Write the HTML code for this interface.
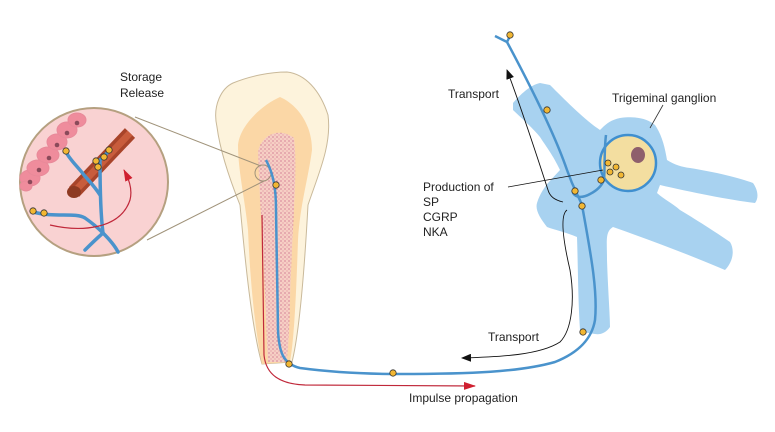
<!DOCTYPE html>
<html><head><meta charset="utf-8"><style>
html,body{margin:0;padding:0;background:#fff;}
svg{display:block;font-family:"Liberation Sans",sans-serif;}
text{font-size:12px;fill:#222;}
</style></head><body>
<svg width="775" height="432" viewBox="0 0 775 432" xmlns="http://www.w3.org/2000/svg">
<defs>
<pattern id="dots" width="4" height="4" patternUnits="userSpaceOnUse">
<rect width="4" height="4" fill="#f6cfc4"/>
<circle cx="1" cy="1" r="0.6" fill="#c0507a"/><circle cx="3" cy="3" r="0.5" fill="#d06a8a"/>
</pattern>
<marker id="ab" markerWidth="10" markerHeight="8" refX="9" refY="4" orient="auto" markerUnits="userSpaceOnUse"><path d="M0,0 L10,4 L0,8 Z" fill="#111"/></marker>
<marker id="ar" markerWidth="12" markerHeight="8" refX="11" refY="4" orient="auto" markerUnits="userSpaceOnUse"><path d="M0,0 L12,4 L0,8 Z" fill="#d02030"/></marker>
</defs>

<!-- ganglion -->
<path d="M513,103 C520,95 530,85 540,83 L550,85 C565,100 585,120 600,130 C605,125 610,120 620,118 C635,116 647,118 655,125 C662,135 665,148 667,160 C675,165 682,167 690,168 C715,172 740,178 753,183 C758,190 759,198 755,203 C730,200 690,192 660,185 L657,193 C665,200 672,203 680,210 C700,222 720,235 730,242 C735,250 733,262 725,270 C690,255 650,240 613,227 C605,232 607,240 607,260 C608,290 610,315 610,327 C606,333 600,335 595,334 C588,333 582,332 580,330 C578,300 578,265 577,237 C565,232 555,230 547,227 C540,218 535,210 537,203 C540,193 545,187 548,183 L560,170 C553,155 545,145 540,137 C530,125 520,117 513,110 Z" fill="#a8d2f0"/>
<circle cx="628" cy="163" r="28" fill="#f3dea0" stroke="#3f8fcf" stroke-width="2.5"/>
<ellipse cx="638" cy="155" rx="7" ry="8" fill="#8e5f6c"/>
<line x1="650" y1="128" x2="663" y2="105" stroke="#333" stroke-width="0.8"/>

<!-- tooth -->
<path d="M217,127 C212,105 222,88 233,83 C250,76 270,72 287,72 C305,74 320,90 328,115 C332,145 318,175 308,205 C305,260 300,330 292,362 L262,364 C252,330 245,260 240,205 C228,175 220,150 217,127 Z" fill="#fdf3dc" stroke="#c9b99a" stroke-width="1"/>
<path d="M238,145 C240,125 262,105 280,97 C298,105 312,125 312,150 C308,180 300,205 298,240 C296,300 294,340 290,362 L262,364 C255,330 250,280 248,230 C245,200 238,170 238,145 Z" fill="#fbd7a6"/>
<path d="M258,152 C262,132 282,128 294,138 C298,170 292,230 290,300 C289,340 288,355 286,362 L268,362 C266,330 264,250 260,200 Z" fill="url(#dots)"/>

<!-- inset -->
<line x1="135" y1="117" x2="261" y2="166" stroke="#a0937a" stroke-width="1"/>
<line x1="147" y1="240" x2="264" y2="181" stroke="#a0937a" stroke-width="1"/>
<circle cx="263" cy="173" r="8" fill="none" stroke="#a0937a" stroke-width="1"/>
<circle cx="94" cy="182" r="74" fill="#f9d2d2" stroke="#b5a080" stroke-width="2"/>
<g fill="#ef8c9c" stroke="#e88a9a" stroke-width="1">
<ellipse cx="30" cy="178" rx="10" ry="8"/><ellipse cx="38" cy="168" rx="11" ry="8"/><ellipse cx="48" cy="155" rx="11" ry="8"/><ellipse cx="57" cy="142" rx="10" ry="8"/><ellipse cx="67" cy="130" rx="10" ry="8"/><ellipse cx="77" cy="120" rx="9" ry="7"/><ellipse cx="26" cy="186" rx="6" ry="5"/>
</g>
<g fill="#8a4a5a"><circle cx="30" cy="182" r="2.3"/><circle cx="39" cy="170" r="2.3"/><circle cx="49" cy="158" r="2.3"/><circle cx="57" cy="145" r="2.3"/><circle cx="67" cy="133" r="2.3"/><circle cx="77" cy="123" r="2.3"/></g>
<path d="M74,192 L130,133" stroke="#a8442a" stroke-width="14" fill="none"/>
<path d="M76,190 L130,133" stroke="#c85c3c" stroke-width="7" fill="none"/>
<ellipse cx="74" cy="192" rx="7" ry="6" fill="#8e3a22"/>
<g stroke="#4a93cc" stroke-width="3.5" fill="none" stroke-linecap="round">
<path d="M33,212 C55,218 75,212 85,218 C95,225 100,230 103,233 C110,240 115,246 118,252"/>
<path d="M103,233 C100,210 100,180 100,160 L110,150"/>
<path d="M66,152 C70,160 78,167 84,175 C90,182 95,187 100,195"/>
<path d="M103,233 C95,240 90,245 85,250"/>
</g>
<path d="M50,225 C80,232 120,230 130,200 C133,188 128,178 124,170" stroke="#c0283a" stroke-width="1.2" fill="none" marker-end="url(#ar)"/>
<g fill="#f2b733" stroke="#333" stroke-width="0.8">
<circle cx="66" cy="151" r="3.2"/><circle cx="96" cy="161" r="3.2"/><circle cx="104" cy="157" r="3.2"/><circle cx="109" cy="150" r="3.2"/><circle cx="98" cy="167" r="3.2"/><circle cx="33" cy="211" r="3.2"/><circle cx="44" cy="213" r="3.2"/>
</g>

<!-- red impulse -->
<path d="M262,215 L264,355 C266,375 280,384 305,385 L475,386" stroke="#c0283a" stroke-width="1.2" fill="none" marker-end="url(#ar)"/>

<!-- main nerve -->
<path d="M266,160 C274,175 276,190 276,210 L278,330 C279,352 283,364 300,368 C330,372 360,374 400,374 C470,374 520,372 555,362 C580,352 592,338 595,320 C598,290 590,250 582,205 C578,195 574,190 567,170 C555,135 530,85 507,42 M507,42 L495,36 M507,42 L510,36" stroke="#4a93cc" stroke-width="2.5" fill="none"/>
<path d="M573,193 C576,198 583,198 590,194 C598,190 602,185 604,180 C605,170 604,150 606,135" stroke="#4a93cc" stroke-width="2.5" fill="none"/>

<!-- transport arrows -->
<path d="M563,202 C555,200 550,197 548,190 C535,150 522,110 507,70" stroke="#111" stroke-width="0.9" fill="none" marker-end="url(#ab)"/>
<path d="M567,210 C560,215 563,240 570,270 C575,300 572,330 560,342 C540,355 500,357 462,358" stroke="#111" stroke-width="0.9" fill="none" marker-end="url(#ab)"/>
<line x1="508" y1="187" x2="603" y2="170" stroke="#111" stroke-width="0.8"/>

<g fill="#f2b733" stroke="#333" stroke-width="0.8">
<circle cx="510" cy="35" r="3.2"/><circle cx="547" cy="110" r="3.2"/><circle cx="575" cy="191" r="3.2"/><circle cx="582" cy="206" r="3.2"/><circle cx="601" cy="180" r="3.2"/>
<circle cx="608" cy="163" r="3"/><circle cx="616" cy="167" r="3"/><circle cx="610" cy="172" r="3"/><circle cx="621" cy="175" r="3"/>
<circle cx="276" cy="185" r="3.2"/><circle cx="289" cy="364" r="3.2"/><circle cx="393" cy="373" r="3.2"/><circle cx="583" cy="332" r="3.2"/>
</g>

<text x="120" y="81">Storage</text>
<text x="120" y="97">Release</text>
<text x="448" y="98">Transport</text>
<text x="612" y="102">Trigeminal ganglion</text>
<text x="423" y="191">Production of</text>
<text x="423" y="206">SP</text>
<text x="423" y="221">CGRP</text>
<text x="423" y="236">NKA</text>
<text x="488" y="341">Transport</text>
<text x="409" y="402">Impulse propagation</text>
</svg>
</body></html>
